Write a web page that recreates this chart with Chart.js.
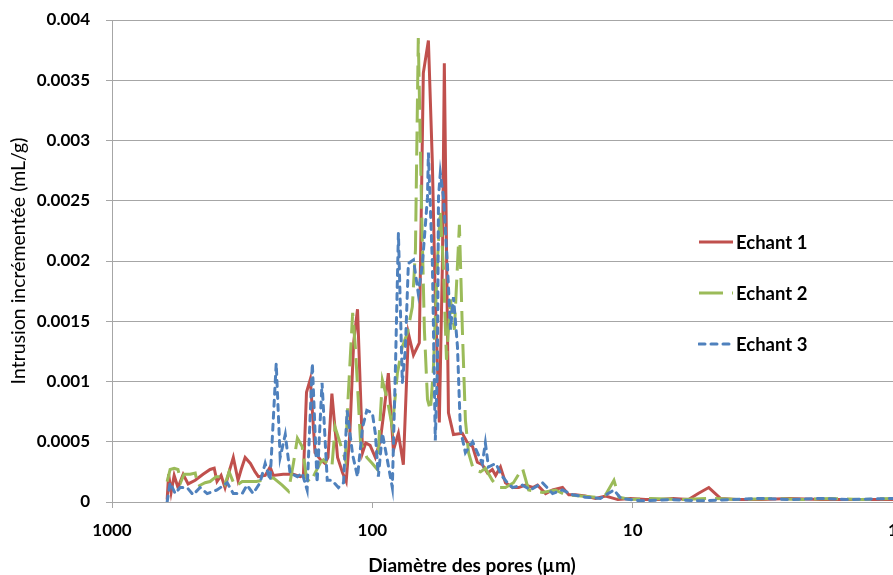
<!DOCTYPE html>
<html>
<head>
<meta charset="utf-8">
<title>Intrusion incrémentée</title>
<script src="https://cdn.jsdelivr.net/npm/chart.js@4.4.0/dist/chart.umd.min.js"></script>
<style>
    body { margin: 0; background: #ffffff; }
    #chartContainer { position: relative; width: 893px; height: 575px; overflow: hidden; }
    #poreLegend {
        position: absolute;
        left: 698px;
        top: 216px;
        font: bold 18.5px Lato, "Open Sans", sans-serif;
        color: #000000;
    }
    .legend-item { display: flex; align-items: center; height: 51px; }
    .legend-item svg { margin-right: 3px; }
    #xTitle {
        position: absolute;
        left: 0;
        width: 944px;
        top: 553px;
        text-align: center;
        font: bold 19px Lato, "Open Sans", sans-serif;
        line-height: 24px;
        color: #000000;
    }
</style>
</head>
<body>
<div id="chartContainer">
    <canvas id="poreChart" width="893" height="575"></canvas>
    <div id="poreLegend"></div>
    <div id="xTitle">Diamètre des pores (µm)</div>
</div>
<script>
// diamètres (µm) et intrusion incrémentée (mL/g)
const echant1Diam = [614, 606, 593, 577, 558, 533, 510, 479, 447, 420, 405, 395, 381, 368, 355, 342, 328, 319, 308, 294,
    282, 274, 258, 247, 240, 220, 201, 189, 184, 179, 173, 166, 158, 152, 148, 143, 136, 130, 126, 122,
    118, 114, 109, 106, 102, 97.4, 93.2, 89.9, 86.8, 83.0, 79.4, 76.0, 72.7, 69.5, 66.0, 63.7, 60.9, 58.8, 57.3, 55.3,
    53.8, 52.9, 51.0, 48.8, 45.1, 43.1, 41.2, 39.5, 37.8, 36.1, 34.6, 33.6, 32.2, 30.8, 28.9, 27.4, 25.8, 24.2, 23.2, 21.6,
    20.3, 18.6, 17.6, 16.6, 15.2, 13.9, 12.7, 11.4, 10.2, 8.9, 7.8, 7.0, 6.1, 5.6, 5.1, 4.6, 4.0, 3.2, 2.5, 1.9,
    1.45, 1.11, 1.0];
const echant1Intr = [0.00002, 0.00023, 0.00008, 0.00022, 0.00012, 0.00023, 0.00015, 0.00018, 0.00023, 0.00027,
    0.00028, 0.00017, 0.00022, 0.00012, 0.00025, 0.00037, 0.00018, 0.00027, 0.00037, 0.00032,
    0.00025, 0.00021, 0.00022, 0.00029, 0.00022, 0.00023, 0.00023, 0.00021, 0.00022, 0.00091,
    0.00102, 0.00041, 0.00035, 0.00032, 0.00037, 0.0009, 0.00037, 0.00024, 0.00017, 0.00057,
    0.00132, 0.0016, 0.00041, 0.00049, 0.00047, 0.00037, 0.00051, 0.00078, 0.00107, 0.00043,
    0.00057, 0.00031, 0.0014, 0.00122, 0.00132, 0.00356, 0.00383, 0.00281, 0.00168, 0.00066,
    0.00198, 0.00364, 0.00074, 0.00056, 0.00057, 0.00049, 0.00046, 0.00033, 0.00031, 0.00024,
    0.00027, 0.00022, 0.00029, 0.00016, 0.00012, 0.00012, 0.00014, 0.00012, 0.00014, 0.00007,
    0.0001, 0.00012, 0.00006, 0.00006, 0.00005, 0.00003, 0.00005, 0.00002, 0.00003, 0.00002,
    0.00002, 0.00003, 0.00002, 0.00007, 0.00012, 0.00003, 0.00002, 0.00002, 0.00003, 0.00002,
    0.00002, 0.00002, 0.00002];

const echant2Diam = [614, 598, 577, 558, 543, 529, 501, 479, 467, 439, 420, 398, 381, 368, 355, 337, 316, 300, 279, 263,
    240, 222, 210, 201, 194, 186, 179, 173, 166, 158, 154, 149, 143, 139, 133, 127, 124, 119, 116, 111,
    105, 100, 95.7, 91.5, 87.6, 83.8, 80.1, 76.7, 73.4, 70.2, 68.3, 66.6, 64.8, 63.1, 61.4, 59.8, 58.3, 56.2, 54.8, 53.3,
    51.9, 50.1, 48.4, 46.3, 45.1, 43.9, 42.7, 40.9, 38.4, 36.8, 34.6, 32.8, 30.8, 28.7, 26.5, 25.1, 22.2, 19.8, 18.1, 15.8,
    13.9, 12.7, 11.8, 11.3, 10.2, 8.5, 6.5, 5.0, 3.8, 2.9, 2.26, 1.73, 1.33, 1.0];
const echant2Intr = [0.00017, 0.00027, 0.00028, 0.00027, 0.00017, 0.00023, 0.00023, 0.00024, 0.00013, 0.00016,
    0.00017, 0.00021, 0.00021, 0.00015, 0.00025, 0.00013, 0.00017, 0.00017, 0.00017, 0.00018,
    0.0002, 0.00014, 0.00009, 0.00032, 0.00053, 0.00046, 0.0002, 0.00016, 0.00024, 0.00033,
    0.00035, 0.00032, 0.00029, 0.00062, 0.00049, 0.00035, 0.00085, 0.00157, 0.00126, 0.0005,
    0.00037, 0.00032, 0.00027, 0.00101, 0.00085, 0.00062, 0.00107, 0.00129, 0.0014, 0.00162,
    0.00209, 0.00385, 0.00251, 0.00143, 0.00085, 0.00076, 0.0011, 0.00201, 0.00242, 0.00193,
    0.00118, 0.00168, 0.00143, 0.0023, 0.00143, 0.00068, 0.00041, 0.00027, 0.00025, 0.00028,
    0.00018, 0.00012, 0.00012, 0.00016, 0.00028, 0.0001, 0.00008, 0.0001, 0.00006, 0.00005,
    0.00004, 0.00006, 0.00018, 0.00004, 0.00002, 0.00003, 0.00002, 0.00003, 0.00002, 0.00003,
    0.00002, 0.00003, 0.00002, 0.00003];

const echant3Diam = [614, 598, 572, 548, 515, 488, 459, 431, 395, 361, 342, 316, 303, 287, 270, 258, 247, 234, 226, 216,
    207, 194, 186, 178, 170, 163, 156, 149, 143, 135, 129, 125, 119, 114, 109, 105, 100, 97.4, 94.8, 91.5,
    87.6, 83.8, 81.5, 79.4, 76.7, 74.7, 72.7, 69.5, 66.6, 64.2, 61.4, 60.9, 58.8, 57.3, 56.2, 55.7, 54.8, 53.3, 51.5, 50.1,
    48.8, 47.1, 45.9, 43.9, 41.2, 39.5, 37.8, 36.8, 35.8, 33.6, 31.6, 30.3, 28.9, 26.5, 24.7, 22.2, 20.3, 18.6, 17.0, 15.2,
    13.3, 11.8, 11.1, 9.3, 7.1, 5.5, 4.2, 3.2, 2.5, 1.9, 1.45, 1.0];
const echant3Intr = [0, 0.00016, 0.00007, 0.00012, 0.00012, 0.00006, 0.00012, 0.00007, 0.0001, 0.00016,
    0.00007, 0.00007, 0.00014, 0.00007, 0.00016, 0.00032, 0.00018, 0.00115, 0.00037, 0.00056,
    0.00024, 0.00021, 0.00024, 0.0001, 0.00115, 0.00016, 0.00099, 0.00018, 0.00018, 0.00012,
    0.00016, 0.00076, 0.00039, 0.00021, 0.00062, 0.00076, 0.00074, 0.00057, 0.00021, 0.00057,
    0.00035, 0.00012, 0.00112, 0.00223, 0.00099, 0.00126, 0.00198, 0.00201, 0.00173, 0.00198,
    0.00253, 0.0029, 0.00198, 0.00051, 0.00115, 0.00253, 0.00273, 0.00253, 0.00198, 0.00143,
    0.0017, 0.00129, 0.0006, 0.00041, 0.0005, 0.00041, 0.00032, 0.00049, 0.00029, 0.00032,
    0.00021, 0.00016, 0.00012, 0.00014, 0.0001, 0.00016, 0.00007, 0.0001, 0.00006, 0.00004,
    0.00003, 0.0001, 0.00003, 0.00001, 0.00002, 0.00001, 0.00002, 0.00003, 0.00002, 0.00003,
    0.00002, 0.00003];

const seriesLabels = ["Echant 1", "Echant 2", "Echant 3"];
const xTickValues = [1000, 100, 10, 1];
const yMax = 0.004;
const yStep = 0.0005;

document.addEventListener("DOMContentLoaded", function () {
    const textColor = "#000000";
    const gridColor = "#a6a6a6";
    const colors = ["#c0504d", "#9bbb59", "#4f81bd"];
    Chart.defaults.font.family = "Lato, 'Open Sans', sans-serif";
    Chart.defaults.color = textColor;

    function toPoints(diam, intr) {
        return diam.map((d, i) => ({ x: d, y: intr[i] }));
    }

    const ctx = document.getElementById("poreChart").getContext("2d");
    const poreChart = new Chart(ctx, {
        type: "line",
        data: {
            datasets: [
                {
                    label: seriesLabels[0],
                    data: toPoints(echant1Diam, echant1Intr),
                    borderColor: colors[0],
                    borderWidth: 3,
                    order: 3,
                },
                {
                    label: seriesLabels[1],
                    data: toPoints(echant2Diam, echant2Intr),
                    borderColor: colors[1],
                    borderWidth: 3,
                    borderDash: [24, 9],
                    order: 2,
                },
                {
                    label: seriesLabels[2],
                    data: toPoints(echant3Diam, echant3Intr),
                    borderColor: colors[2],
                    borderWidth: 3,
                    borderDash: [6, 6],
                    borderCapStyle: "round",
                    order: 1,
                },
            ],
        },
        options: {
            responsive: false,
            animation: false,
            devicePixelRatio: 1,
            layout: {
                padding: { top: 20, right: 0, left: 0, bottom: 0 },
            },
            elements: {
                point: { radius: 0 },
                line: { tension: 0, fill: false },
            },
            plugins: {
                legend: { display: false },
                tooltip: { enabled: false },
            },
            scales: {
                x: {
                    type: "logarithmic",
                    reverse: true,
                    min: 1,
                    max: 1000,
                    afterBuildTicks: function (scale) {
                        scale.ticks = xTickValues.map((v) => ({ value: v }));
                    },
                    afterFit: function (scale) {
                        scale.height = 73;
                        scale.paddingLeft = 0;
                        scale.paddingRight = 0;
                    },
                    ticks: {
                        autoSkip: false,
                        maxRotation: 0,
                        padding: 12,
                        color: textColor,
                        font: { size: 17, weight: "bold" },
                        callback: function (value) {
                            return String(value);
                        },
                    },
                    grid: {
                        drawOnChartArea: false,
                        drawTicks: true,
                        tickLength: 6,
                        color: gridColor,
                    },
                    border: { color: gridColor },
                    title: { display: false },
                },
                y: {
                    min: 0,
                    max: yMax,
                    afterFit: function (scale) {
                        scale.width = 112;
                        scale.paddingTop = 0;
                        scale.paddingBottom = 0;
                    },
                    ticks: {
                        stepSize: yStep,
                        padding: 16,
                        color: textColor,
                        font: { size: 17, weight: "bold" },
                        callback: function (value) {
                            return parseFloat(value.toFixed(4)).toString();
                        },
                    },
                    grid: {
                        color: gridColor,
                        tickLength: 6,
                    },
                    border: { color: gridColor },
                    title: {
                        display: true,
                        text: "Intrusion incrémentée (mL/g)",
                        color: textColor,
                        padding: { top: 7, bottom: 0 },
                        font: { size: 19.5, weight: "normal" },
                    },
                },
            },
        },
    });

    // légende à droite, construite à partir des séries
    function buildLegend(chart) {
        const html = chart.data.datasets
            .map(function (ds) {
                const dash = (ds.borderDash || []).join(",");
                const cap = ds.borderCapStyle === "round" ? "round" : "butt";
                return `<div class="legend-item">
                    <svg width="35" height="6"><line x1="1" y1="3" x2="35" y2="3" stroke="${ds.borderColor}"
                        stroke-width="3" stroke-dasharray="${dash}" stroke-linecap="${cap}"/></svg>
                    <span>${ds.label}</span>
                </div>`;
            })
            .join("");
        document.getElementById("poreLegend").innerHTML = html;
    }
    buildLegend(poreChart);
});
</script>
</body>
</html>
